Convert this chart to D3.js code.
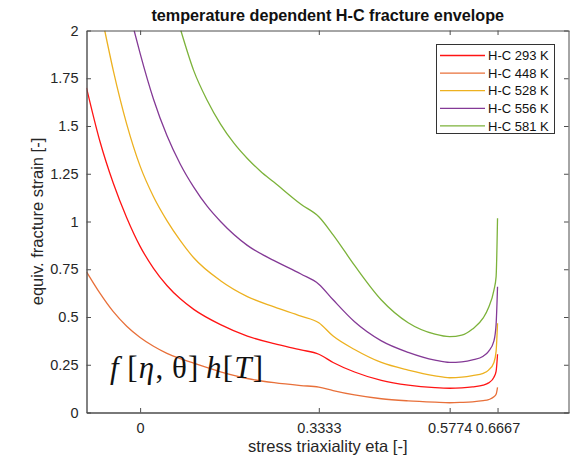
<!DOCTYPE html>
<html>
<head>
<meta charset="utf-8">
<script src="https://cdn.jsdelivr.net/npm/d3@7"></script>
<style>
  html, body { margin: 0; padding: 0; background: #fff; }
  svg { display: block; }
  .sans { font-family: "Liberation Sans", Arial, Helvetica, sans-serif; fill: #262626; }
  .serif { font-family: "Liberation Serif", "DejaVu Serif", serif; fill: #111; }
</style>
</head>
<body>
<svg id="chart" width="570" height="459"></svg>
<script>
// Stress triaxiality ticks and equivalent fracture strain ticks
const xTickValues = [0, 0.3333, 0.5774, 0.6667];
const xTickLabels = ["0", "0.3333", "0.5774", "0.6667"];
const yTickValues = [0, 0.25, 0.5, 0.75, 1, 1.25, 1.5, 1.75, 2];
const yTickLabels = ["0", "0.25", "0.5", "0.75", "1", "1.25", "1.5", "1.75", "2"];

// Temperature series
const seriesNames = ["H-C 293 K", "H-C 448 K", "H-C 528 K", "H-C 556 K", "H-C 581 K"];
const seriesColors = ["#ff1414", "#e8703a", "#edb120", "#843a96", "#7cb23a"];

// Fracture strain along the triaxiality range, one pair of arrays per temperature
const eta293 = [-0.1, -0.075, -0.05, -0.025, 0, 0.025, 0.05, 0.075, 0.1, 0.15, 0.2, 0.25, 0.3, 0.3333, 0.36, 0.4, 0.45, 0.5, 0.55, 0.5774, 0.6, 0.62, 0.64, 0.65, 0.66, 0.664, 0.6667];
const eps293 = [1.70, 1.42, 1.20, 1.02, 0.87, 0.755, 0.665, 0.595, 0.54, 0.46, 0.40, 0.36, 0.328, 0.305, 0.262, 0.212, 0.168, 0.143, 0.130, 0.127, 0.129, 0.134, 0.143, 0.155, 0.185, 0.215, 0.305];

const eta448 = [-0.1, -0.075, -0.05, -0.025, 0, 0.025, 0.05, 0.075, 0.1, 0.15, 0.2, 0.25, 0.3, 0.3333, 0.36, 0.4, 0.45, 0.5, 0.55, 0.5774, 0.6, 0.62, 0.64, 0.65, 0.66, 0.664, 0.6667];
const eps448 = [0.737, 0.625, 0.528, 0.452, 0.393, 0.347, 0.31, 0.282, 0.258, 0.213, 0.178, 0.156, 0.141, 0.133, 0.115, 0.092, 0.072, 0.061, 0.054, 0.051, 0.053, 0.056, 0.062, 0.067, 0.082, 0.095, 0.132];

const eta528 = [-0.066, -0.05, -0.025, 0, 0.025, 0.05, 0.075, 0.1, 0.15, 0.2, 0.25, 0.3, 0.3333, 0.36, 0.4, 0.45, 0.5, 0.55, 0.5774, 0.6, 0.62, 0.64, 0.65, 0.66, 0.664, 0.6667];
const eps528 = [2.0, 1.79, 1.51, 1.29, 1.13, 1.005, 0.90, 0.81, 0.69, 0.607, 0.553, 0.505, 0.47, 0.40, 0.33, 0.262, 0.222, 0.192, 0.182, 0.185, 0.193, 0.205, 0.222, 0.262, 0.32, 0.467];

const eta556 = [-0.0112, 0, 0.025, 0.05, 0.075, 0.1, 0.125, 0.15, 0.2, 0.25, 0.3, 0.3333, 0.36, 0.4, 0.45, 0.5, 0.55, 0.5774, 0.6, 0.62, 0.64, 0.65, 0.66, 0.664, 0.6667];
const eps556 = [2.0, 1.88, 1.64, 1.45, 1.30, 1.18, 1.08, 1.0, 0.875, 0.795, 0.725, 0.672, 0.59, 0.475, 0.375, 0.315, 0.274, 0.262, 0.265, 0.275, 0.295, 0.32, 0.375, 0.46, 0.658];

const eta581 = [0.076, 0.1, 0.125, 0.15, 0.175, 0.2, 0.225, 0.25, 0.3, 0.3333, 0.36, 0.4, 0.45, 0.5, 0.55, 0.5774, 0.6, 0.62, 0.64, 0.65, 0.66, 0.664, 0.6667];
const eps581 = [2.0, 1.79, 1.635, 1.51, 1.41, 1.33, 1.262, 1.205, 1.09, 1.025, 0.93, 0.77, 0.589, 0.47, 0.41, 0.397, 0.405, 0.437, 0.495, 0.55, 0.641, 0.71, 1.017];

const seriesEta = [eta293, eta448, eta528, eta556, eta581];
const seriesEps = [eps293, eps448, eps528, eps556, eps581];

const svg = d3.select("#chart");
const plotLeft = 86.5, plotRight = 569, plotTop = 30.5, plotBottom = 412.5;

const x = d3.scaleLinear().domain([-0.1, 0.8]).range([plotLeft, plotRight]);
const y = d3.scaleLinear().domain([0, 2]).range([plotBottom, plotTop]);

// Clip region for the plotting area
svg.append("defs").append("clipPath").attr("id", "plot-clip")
  .append("rect").attr("x", plotLeft).attr("y", plotTop)
  .attr("width", plotRight - plotLeft).attr("height", plotBottom - plotTop);

// Curves
const line = d3.line()
  .x(d => x(d[0]))
  .y(d => y(d[1]))
  .curve(d3.curveMonotoneX);

const curves = svg.append("g").attr("clip-path", "url(#plot-clip)");
seriesNames.forEach((name, i) => {
  const pts = seriesEta[i].map((e, j) => [e, seriesEps[i][j]]);
  curves.append("path")
    .datum(pts)
    .attr("d", line)
    .attr("fill", "none")
    .attr("stroke", seriesColors[i])
    .attr("stroke-width", 1.3);
});

// Axes: bottom and left with labels, top and right mirrored ticks only
const tickLen = 4.5;
const axisColor = "#4d4d4d";

const xAxisB = d3.axisBottom(x).tickValues(xTickValues)
  .tickFormat((d, i) => xTickLabels[i]).tickSizeInner(-tickLen).tickSizeOuter(0).tickPadding(10);
const gxb = svg.append("g").attr("transform", `translate(0,${plotBottom})`).call(xAxisB);

const xAxisT = d3.axisTop(x).tickValues(xTickValues)
  .tickFormat("").tickSizeInner(-tickLen).tickSizeOuter(0);
const gxt = svg.append("g").attr("transform", `translate(0,${plotTop})`).call(xAxisT);

const yAxisL = d3.axisLeft(y).tickValues(yTickValues)
  .tickFormat((d, i) => yTickLabels[i]).tickSizeInner(-tickLen).tickSizeOuter(0).tickPadding(8);
const gyl = svg.append("g").attr("transform", `translate(${plotLeft},0)`).call(yAxisL);

const yAxisR = d3.axisRight(y).tickValues(yTickValues)
  .tickFormat("").tickSizeInner(-tickLen).tickSizeOuter(0);
const gyr = svg.append("g").attr("transform", `translate(${plotRight - 0.5},0)`).call(yAxisR);

[gxb, gxt, gyl, gyr].forEach(g => {
  g.selectAll(".domain").attr("stroke", axisColor).attr("stroke-width", 1);
  g.selectAll(".tick line").attr("stroke", axisColor).attr("stroke-width", 1);
  g.selectAll(".tick text").attr("class", "sans").attr("font-size", 14.5);
});
gxb.selectAll(".domain").attr("stroke-width", 1.4);
gyl.selectAll(".domain").attr("stroke-width", 1.4);

// Title
svg.append("text")
  .attr("class", "sans")
  .attr("x", (plotLeft + plotRight) / 2).attr("y", 21)
  .attr("text-anchor", "middle")
  .attr("font-size", 16.2).attr("font-weight", "bold")
  .style("fill", "#111")
  .text("temperature dependent H-C fracture envelope");

// Axis titles
svg.append("text")
  .attr("class", "sans")
  .attr("x", (plotLeft + plotRight) / 2).attr("y", 452)
  .attr("text-anchor", "middle")
  .attr("font-size", 16.5)
  .text("stress triaxiality eta [-]");

svg.append("text")
  .attr("class", "sans")
  .attr("transform", `translate(43,${(plotTop + plotBottom) / 2}) rotate(-90)`)
  .attr("text-anchor", "middle")
  .attr("font-size", 16.5)
  .text("equiv. fracture strain [-]");

// Legend
const legend = svg.append("g");
legend.append("rect")
  .attr("x", 436.5).attr("y", 44.5).attr("width", 118).attr("height", 89)
  .attr("fill", "#fff").attr("stroke", "#333").attr("stroke-width", 1);
seriesNames.forEach((name, i) => {
  const cy = 55.5 + i * 17.6;
  legend.append("line")
    .attr("x1", 440).attr("x2", 485).attr("y1", cy).attr("y2", cy)
    .attr("stroke", seriesColors[i]).attr("stroke-width", 1.3);
  legend.append("text")
    .attr("class", "sans")
    .attr("x", 488).attr("y", cy).attr("dy", "0.36em")
    .attr("font-size", 13).style("fill", "#111")
    .text(name);
});

// Model expression
const expr = svg.append("text")
  .attr("class", "serif")
  .attr("x", 110).attr("y", 378)
  .attr("font-size", 31)
  .attr("textLength", 153)
  .attr("lengthAdjust", "spacing");
const parts = [
  ["f", true], ["\u2009[", false], ["\u03b7", true], [",\u2009", false], ["\u03b8", false],
  ["]\u2006", false], ["h", true], ["[", false], ["T", true], ["]", false]
];
parts.forEach(([t, it]) => {
  expr.append("tspan").attr("font-style", it ? "italic" : "normal").text(t);
});
</script>
</body>
</html>
